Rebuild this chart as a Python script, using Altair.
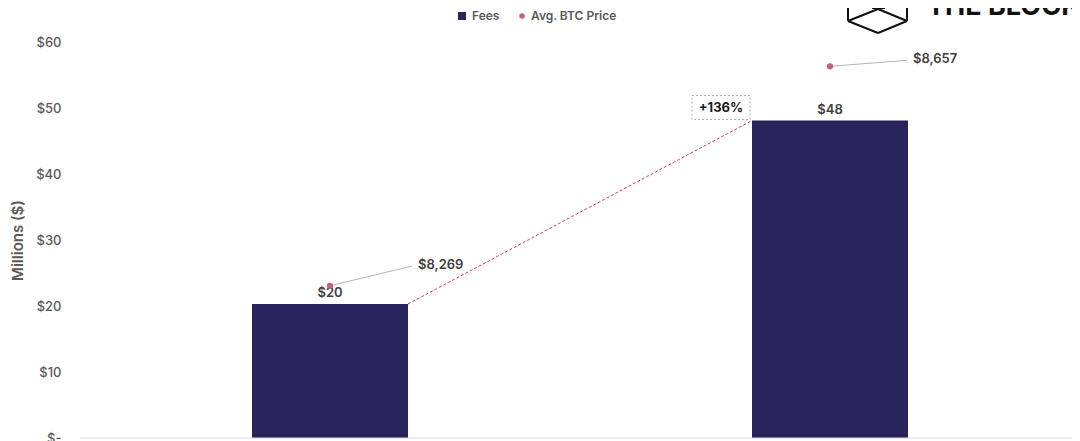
import altair as alt
import pandas as pd

# ---- data ----
positions = [0, 1]                      # two periods (x labels are cut off in the reference)
fees = [20.3, 48.1]                     # Fees, millions USD
fee_labels = ["$20", "$48"]
btc_price = [8269, 8657]                # Avg. BTC price
btc_labels = ["$8,269", "$8,657"]
change_label = "+136%"
y_ticks = [0, 10, 20, 30, 40, 50, 60]

# ---- styling constants ----
FONT = "Inter"
NAVY = "#29245c"
PINK = "#c9607a"
GRAY = "#595959"
HALF = 0.156            # half bar width in x units
LEAD = [(0.164, 35.0), (0.154, 10.6)]   # leader line offsets (x units, price units)

X_SCALE = alt.Scale(domain=[-0.5, 1.484])
Y_SCALE = alt.Scale(domain=[0, 60])
P_SCALE = alt.Scale(domain=[8000, 8700])

df = pd.DataFrame({
    "pos": positions,
    "fees": fees,
    "fee_label": fee_labels,
    "price": btc_price,
    "price_label": btc_labels,
    "ldx": [d[0] for d in LEAD],
    "ldy": [d[1] for d in LEAD],
})

bars = alt.Chart(df).transform_calculate(
    xa=f"datum.pos - {HALF}", xb=f"datum.pos + {HALF}", zero="0"
).mark_rect(color=NAVY).encode(
    x=alt.X("xa:Q", scale=X_SCALE, axis=None),
    x2="xb:Q",
    y=alt.Y("zero:Q", scale=Y_SCALE,
            axis=alt.Axis(values=y_ticks, grid=False, ticks=False, domain=False,
                          labelExpr="datum.value == 0 ? '$-' : '$' + datum.value",
                          labelFont=FONT, labelFontSize=13, labelFontWeight=500,
                          labelColor=GRAY, labelPadding=19,
                          title="Millions ($)", titleFont=FONT, titleFontSize=15,
                          titleFontWeight=600, titleColor=GRAY,
                          titleX=-63, titleY=198, titleAngle=270,
                          titleAlign="center", titleBaseline="middle")),
    y2="fees:Q",
)

# baseline along zero
baseline = alt.Chart(pd.DataFrame({"z": [0]})).mark_rule(
    color="#d9d9d9", strokeWidth=1
).encode(
    y=alt.Y("z:Q", scale=Y_SCALE, axis=None),
    x=alt.value(0), x2=alt.value(1000),
)

bar_text = alt.Chart(df).mark_text(
    font=FONT, fontSize=13, fontWeight=600, color="#404040", dy=-11
).encode(
    x=alt.X("pos:Q", scale=X_SCALE, axis=None),
    y=alt.Y("fees:Q", scale=Y_SCALE, axis=None),
    text="fee_label:N",
)

# connector between bar tops
conn_df = pd.DataFrame({
    "xa": [positions[0] + HALF], "ya": [fees[0]],
    "xb": [positions[1] - HALF], "yb": [fees[1]],
})
connector = alt.Chart(conn_df).mark_rule(
    color="#e0404a", strokeDash=[3, 2], strokeWidth=1
).encode(
    x=alt.X("xa:Q", scale=X_SCALE, axis=None), x2="xb:Q",
    y=alt.Y("ya:Q", scale=Y_SCALE, axis=None), y2="yb:Q",
)

box_df = pd.DataFrame({"xe": [positions[1] - HALF], "ye": [fees[1]], "label": [change_label]})
box = alt.Chart(box_df).transform_calculate(
    bx1="datum.xe - 0.12", bx2="datum.xe - 0.004",
    by1="datum.ye + 0.15", by2="datum.ye + 3.8",
).mark_rect(fill="white", stroke="#c4a3ab", strokeWidth=1, strokeDash=[2, 2]).encode(
    x=alt.X("bx1:Q", scale=X_SCALE, axis=None), x2="bx2:Q",
    y=alt.Y("by1:Q", scale=Y_SCALE, axis=None), y2="by2:Q",
)
box_text = alt.Chart(box_df).transform_calculate(
    cx="datum.xe - 0.062", cy="datum.ye + 1.97",
).mark_text(font=FONT, fontSize=13, fontWeight=700, color="#1a1a1a",
            baseline="middle").encode(
    x=alt.X("cx:Q", scale=X_SCALE, axis=None),
    y=alt.Y("cy:Q", scale=Y_SCALE, axis=None),
    text="label:N",
)

# BTC price dots on a hidden secondary scale
dots = alt.Chart(df).mark_circle(color=PINK, size=40, opacity=1).encode(
    x=alt.X("pos:Q", scale=X_SCALE, axis=None),
    y=alt.Y("price:Q", scale=P_SCALE, axis=None),
)
leaders = alt.Chart(df).transform_calculate(
    lx="datum.pos + datum.ldx", ly="datum.price + datum.ldy"
).mark_rule(color="#b5b5b5", strokeWidth=1).encode(
    x=alt.X("pos:Q", scale=X_SCALE, axis=None), x2="lx:Q",
    y=alt.Y("price:Q", scale=P_SCALE, axis=None), y2="ly:Q",
)
price_text = alt.Chart(df).transform_calculate(
    lx="datum.pos + datum.ldx", ly="datum.price + datum.ldy"
).mark_text(font=FONT, fontSize=13, fontWeight=600, color="#404040",
            align="left", baseline="middle", dx=6, dy=-1).encode(
    x=alt.X("lx:Q", scale=X_SCALE, axis=None),
    y=alt.Y("ly:Q", scale=P_SCALE, axis=None),
    text="price_label:N",
)

# legend (top centre)
leg_sq = alt.Chart(pd.DataFrame({"a": [0]})).mark_square(
    color=NAVY, size=64, opacity=1).encode(x=alt.value(382), y=alt.value(-26))
leg_fees = alt.Chart(pd.DataFrame({"t": ["Fees"]})).mark_text(
    font=FONT, fontSize=12, fontWeight=600, color=GRAY, align="left", baseline="middle"
).encode(x=alt.value(392), y=alt.value(-26), text="t:N")
leg_dot = alt.Chart(pd.DataFrame({"a": [0]})).mark_circle(
    color=PINK, size=30, opacity=1).encode(x=alt.value(442), y=alt.value(-26))
leg_btc = alt.Chart(pd.DataFrame({"t": ["Avg. BTC Price"]})).mark_text(
    font=FONT, fontSize=12, fontWeight=600, color=GRAY, align="left", baseline="middle"
).encode(x=alt.value(451), y=alt.value(-26), text="t:N")

# logo (top right, partly cut off)
logo_text = alt.Chart(pd.DataFrame({"t": ["THE BLOCK"]})).mark_text(
    font=FONT, fontSize=27, fontWeight=700, color="#111111", align="left",
    baseline="alphabetic"
).encode(x=alt.value(847), y=alt.value(-27), text="t:N")
seg = pd.DataFrame({
    "x1": [768, 827, 768, 798, 798, 798, 792, 805, 792],
    "y1": [-46, -46, -21, -9, -33, -33, -46, -46, -34],
    "x2": [768, 827, 798, 827, 768, 827, 792, 805, 805],
    "y2": [-21, -21, -9, -21, -21, -21, -34, -34, -34],
})
logo_lines = alt.Chart(seg).mark_rule(color="#111111", strokeWidth=2).encode(
    x=alt.X("x1:Q", scale=None, axis=None), y=alt.Y("y1:Q", scale=None, axis=None),
    x2="x2:Q", y2="y2:Q",
)

chart = alt.layer(
    bars, baseline, connector, box, box_text, bar_text, leaders, dots, price_text,
    leg_sq, leg_fees, leg_dot, leg_btc, logo_text, logo_lines
).resolve_scale(y="independent").properties(
    width=992, height=396, background="white",
    autosize=alt.AutoSizeParams(type="none"),
    padding={"left": 72, "top": 34, "right": 0, "bottom": 3},
).configure_view(stroke="transparent", strokeWidth=0)

chart.save("out.html", embed_options={"renderer": "svg", "actions": False})
